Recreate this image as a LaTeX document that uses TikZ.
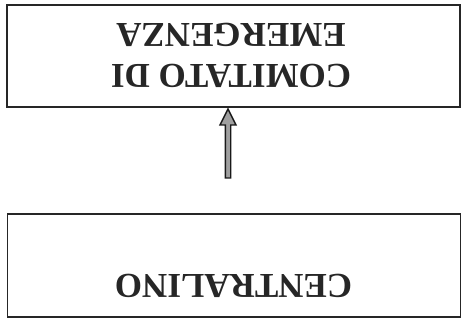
\documentclass[tikz,border=0pt]{standalone}
\usepackage{fontspec}
\setmainfont{Liberation Serif}
\usetikzlibrary{calc}
\tikzset{
  box/.style={draw=black!85, line width=1.5pt, minimum width=453pt, inner sep=0pt},
  lbl/.style={rotate=180, align=center, text=black!85, inner sep=0pt,
    font=\bfseries\fontsize{35}{41}\selectfont},
  blockarrow/.style={draw=black!90, fill=gray!75, line width=1.4pt, line join=miter}
}
\begin{document}
\begin{tikzpicture}[x=1pt,y=-1pt]
\useasboundingbox (0,0) rectangle (462,320);
\node[box, minimum height=102pt] (com) at (233.5,56) {};
\node[box, minimum height=103pt] (ctr) at (234,265.5) {};
\node[lbl] (comt) at (231,55) {COMITATO DI\\EMERGENZA};
\node[lbl] (ctrt) at (233.5,285.5) {CENTRALINO};
\coordinate (tip) at (228,109);
\coordinate (tail) at (228,178);
\draw[blockarrow] (tip) -- ($(tip)+(8,16)$) -- ($(tip)+(2.7,16)$) -- ($(tail)+(2.7,0)$)
  -- ($(tail)+(-2.7,0)$) -- ($(tip)+(-2.7,16)$) -- ($(tip)+(-8,16)$) -- cycle;
\end{tikzpicture}
\end{document}
